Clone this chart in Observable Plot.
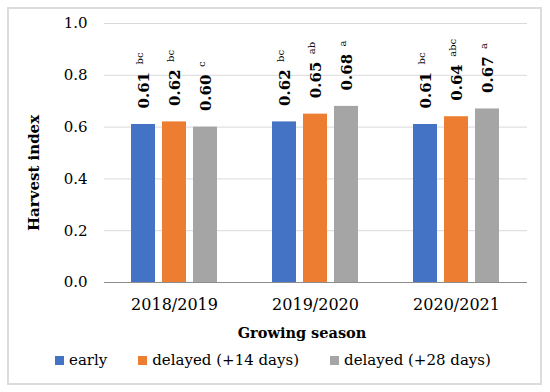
<!DOCTYPE html>
<html><head>
<meta charset="utf-8">
<script src="https://cdn.jsdelivr.net/npm/d3@7"></script>
<script src="https://cdn.jsdelivr.net/npm/@observablehq/plot@0.6"></script>
<style>
  body { margin:0; background:#fff; font-family:"DejaVu Serif", serif; }
  #wrap { position:relative; width:550px; height:392px; overflow:hidden; font-family:"DejaVu Serif", serif; }
  #frame { position:absolute; left:7px; top:7px; width:535px; height:378px; border:2px solid #dcdcdc; box-sizing:border-box; }
  #grid, #chart { position:absolute; left:0; top:0; }
  .title { position:absolute; font-family:"DejaVu Serif", serif; font-weight:bold; font-size:15px; color:#000; white-space:nowrap; }
  #ytitle { left:34px; top:173px; transform:translate(-50%,-50%) rotate(-90deg); }
  #xtitle { left:302px; top:332px; transform:translate(-50%,-50%); font-size:14.5px; }
  #legend { position:absolute; left:55px; top:352px; display:flex; align-items:center; font-family:"DejaVu Serif", serif; font-size:15px; line-height:17px; color:#000; }
  #legend .item { display:flex; align-items:center; margin-right:31px; font-family:"DejaVu Serif", serif; }
  #legend .item:last-child { margin-right:0; }
  #legend .sw { width:9px; height:9px; margin-right:5px; }
</style>
</head><body>
<div id="wrap">
  <div id="frame"></div>
  <div id="grid"></div>
  <div id="chart"></div>
  <div class="title" id="ytitle">Harvest index</div>
  <div class="title" id="xtitle">Growing season</div>
  <div id="legend"></div>
</div>
<script>
const seasons = ["2018/2019", "2019/2020", "2020/2021"];
const treatments = ["early", "delayed (+14 days)", "delayed (+28 days)"];
const colors = ["#4472C4", "#ED7D31", "#A5A5A5"];
const earlyValues = [0.61, 0.62, 0.61];
const delayed14Values = [0.62, 0.65, 0.64];
const delayed28Values = [0.60, 0.68, 0.67];
const earlyLetters = ["bc", "bc", "bc"];
const delayed14Letters = ["bc", "ab", "abc"];
const delayed28Letters = ["c", "a", "a"];
const yTicks = [0, 0.2, 0.4, 0.6, 0.8, 1.0];

const seriesValues = [earlyValues, delayed14Values, delayed28Values];
const seriesLetters = [earlyLetters, delayed14Letters, delayed28Letters];
const rows = [];
seasons.forEach((s, i) => {
  treatments.forEach((t, j) => {
    rows.push({season: s, treatment: t, value: seriesValues[j][i], letters: seriesLetters[j][i]});
  });
});
const fmt2 = d3.format(".2f");

const dims = {width: 550, height: 345, marginLeft: 104, marginRight: 23, marginTop: 23, marginBottom: 63};

// Background: full-width gridlines and y axis (not faceted)
const grid = Plot.plot({
  ...dims,
  style: {fontFamily: "DejaVu Serif", background: "transparent", color: "#000"},
  x: {axis: null},
  y: {domain: [0, 1], label: null},
  marks: [
    Plot.ruleY(yTicks.filter(d => d > 0), {stroke: "#d9d9d9", strokeWidth: 1}),
    Plot.axisY(yTicks, {tickFormat: d3.format(".1f"), tickSize: 0, tickPadding: 17, fontSize: 15, label: null})
  ]
});
document.getElementById("grid").append(grid);

const chart = Plot.plot({
  ...dims,
  style: {fontFamily: "DejaVu Serif", background: "transparent", color: "#000"},
  fx: {domain: seasons, paddingInner: 0.39, paddingOuter: 0.195, label: null},
  x: {domain: treatments, paddingInner: 0.226, paddingOuter: 0, axis: null},
  y: {domain: [0, 1], axis: null},
  color: {domain: treatments, range: colors},
  marks: [
    Plot.barY(rows, {fx: "season", x: "treatment", y: "value", fill: "treatment"}),
    Plot.text(rows, {fx: "season", x: "treatment", y: "value", text: d => fmt2(d.value),
      rotate: -90, textAnchor: "start", lineAnchor: "middle", dy: -16, dx: 1,
      fontWeight: "bold", fontSize: 15, fill: "#000"}),
    Plot.text(rows, {fx: "season", x: "treatment", y: "value", text: "letters",
      rotate: -90, textAnchor: "start", lineAnchor: "middle", dy: -60, dx: -4,
      fontSize: 10, fill: "#000"}),
    Plot.axisFx({anchor: "bottom", tickSize: 0, tickPadding: 16, fontSize: 16, label: null})
  ]
});
document.getElementById("chart").append(chart);

// Baseline across the full plot width, drawn on top of the bars
const base = Plot.plot({
  ...dims,
  style: {background: "transparent", position: "absolute", left: "0px", top: "0px"},
  x: {axis: null},
  y: {domain: [0, 1], axis: null},
  marks: [Plot.ruleY([0], {stroke: "#8c8c8c", strokeWidth: 1})]
});
document.getElementById("chart").append(base);

const legend = document.getElementById("legend");
treatments.forEach((t, j) => {
  const item = document.createElement("div");
  item.className = "item";
  const sw = document.createElement("span");
  sw.className = "sw";
  sw.style.background = colors[j];
  const lab = document.createElement("span");
  lab.textContent = t;
  item.append(sw, lab);
  legend.append(item);
});
</script>
</body></html>
